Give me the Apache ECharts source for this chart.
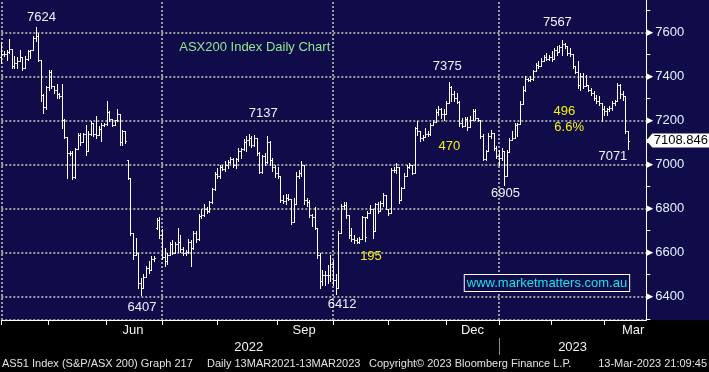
<!DOCTYPE html>
<html><head><meta charset="utf-8">
<script src="https://cdn.jsdelivr.net/npm/echarts@6/dist/echarts.min.js"></script>
<style>html,body{margin:0;padding:0;background:#000;}#c{width:709px;height:372px;}</style>
</head><body><div id="c"></div>
<script>
// ---- categories / ticks ----
const monthNames = ['Apr','May','Jun','Jul','Aug','Sep','Oct','Nov','Dec','Jan','Feb','Mar'];
const monthDays  = [18,22,21,21,23,21,21,22,20,20,20,17];   // trading-day slots per month
const monthLabelIdx = [50,115,179,240];                     // Jun, Sep, Dec, Mar (mid-month)
const yearLabels = ['2022','2023'];
const yearLabelIdx = [94,217];

// ---- daily OHLC (ASX200, Apr 2022 - 13 Mar 2023) ----
const opens = [
7490,7500,7500,7510,7525,7445,7460,7470,7490,7440,
7480,7515,7518,7575,7585,7475,7314,7260,7350,7420,
7355,7340,7320,7310,7200,7125,7050,7050,6945,7070,
7135,7100,7140,7060,7140,7190,7140,7135,7160,7180,
7185,7240,7205,7180,7200,7230,7100,7150,7020,6940,
6690,6590,6600,6460,6440,6490,6530,6520,6570,6710,
6750,6680,6580,6560,6590,6640,6600,6640,6650,6615,
6600,6605,6650,6620,6690,6660,6765,6770,6800,6790,
6830,6890,6955,6950,6990,6980,7000,7010,7025,7000,
7025,7060,7070,7100,7110,7120,7090,7120,7050,6965,
7040,7010,7100,7020,6990,6960,6950,6840,6835,6850,
6845,6740,6820,6950,6960,7000,6840,6830,6770,6760,
6710,6590,6470,6500,6500,6500,6550,6475,6440,6690,
6810,6815,6770,6680,6660,6655,6650,6660,6760,6760,
6780,6800,6700,6820,6790,6825,6860,6800,6780,6975,
6975,6990,6840,6895,6950,6990,7000,6960,7165,7150,
7120,7125,7140,7140,7180,7195,7240,7250,7230,7230,
7280,7350,7320,7300,7285,7190,7175,7205,7170,7200,
7245,7210,7200,7130,7025,7060,7130,7145,7075,7040,
7030,7060,6950,7055,7110,7120,7180,7185,7275,7340,
7390,7385,7390,7425,7450,7445,7470,7490,7480,7490,
7480,7520,7510,7535,7545,7540,7505,7500,7445,7420,
7360,7400,7355,7360,7340,7325,7300,7290,7280,7250,
7245,7250,7255,7280,7290,7360,7320,7310,7150];
const highs = [
7556,7514,7521,7571,7525,7491,7487,7521,7490,7491,
7521,7521,7582,7624,7595,7475,7320,7355,7431,7428,
7355,7366,7325,7366,7205,7125,7060,7060,7075,7143,
7143,7145,7181,7151,7196,7190,7219,7174,7189,7190,
7287,7242,7205,7204,7254,7230,7158,7150,7022,6940,
6690,6667,6600,6486,6501,6539,6561,6584,6584,6758,
6760,6705,6622,6600,6650,6655,6650,6712,6680,6625,
6610,6660,6655,6700,6700,6775,6800,6820,6805,6835,
6895,6965,6985,7000,7000,7018,7020,7035,7030,7030,
7075,7075,7115,7128,7137,7128,7135,7120,7055,7045,
7050,7130,7105,7030,7000,6990,6950,6860,6865,6865,
6845,6850,6965,6975,7015,7000,6850,6840,6775,6805,
6710,6600,6520,6516,6545,6590,6565,6505,6697,6820,
6830,6830,6770,6712,6682,6667,6670,6765,6760,6790,
6818,6800,6826,6830,6833,6871,6860,6800,6985,6990,
7007,6990,6900,6962,7000,7007,7000,7170,7196,7151,
7136,7166,7150,7189,7204,7250,7264,7257,7250,7287,
7375,7355,7335,7325,7287,7211,7215,7215,7220,7250,
7250,7210,7200,7140,7068,7143,7158,7145,7083,7068,
7075,7060,7068,7121,7151,7189,7190,7287,7355,7400,
7395,7400,7431,7461,7468,7484,7499,7506,7499,7514,
7529,7536,7544,7567,7552,7540,7529,7500,7446,7468,
7416,7416,7408,7360,7348,7332,7317,7310,7280,7264,
7257,7264,7287,7295,7370,7365,7332,7310,7151];
const lows = [
7461,7491,7476,7506,7438,7438,7438,7468,7431,7440,
7476,7484,7518,7559,7468,7287,7234,7254,7340,7348,
7325,7302,7302,7166,7121,6939,7045,6932,6939,7070,
7090,7100,7045,7060,7136,7128,7121,7135,7106,7175,
7181,7196,7174,7180,7196,7090,7090,7098,6932,6682,
6569,6590,6440,6407,6440,6490,6508,6520,6561,6705,
6667,6569,6539,6546,6590,6595,6600,6605,6605,6590,
6590,6600,6540,6615,6650,6655,6755,6765,6780,6785,
6825,6885,6940,6940,6975,6970,6985,7005,6990,6985,
7015,7030,7065,7060,7090,7080,7085,7045,6960,6960,
7000,7005,7000,6970,6945,6940,6830,6825,6820,6840,
6730,6740,6820,6940,6950,6820,6810,6760,6720,6705,
6575,6440,6455,6455,6460,6470,6455,6412,6440,6690,
6800,6758,6667,6652,6644,6644,6644,6660,6652,6758,
6780,6667,6700,6780,6790,6811,6796,6773,6780,6965,
6960,6826,6840,6895,6950,6985,6955,6960,7136,7106,
7113,7125,7130,7136,7180,7195,7227,7211,7204,7230,
7280,7287,7287,7280,7174,7170,7175,7158,7170,7200,
7204,7196,7121,7022,7022,7060,7120,7068,7030,7000,
7020,6905,6947,7055,7110,7120,7128,7185,7275,7332,
7378,7378,7385,7425,7438,7445,7468,7476,7476,7468,
7480,7499,7510,7499,7529,7499,7491,7438,7416,7348,
7340,7348,7355,7332,7317,7295,7279,7272,7196,7227,
7227,7242,7249,7272,7290,7302,7295,7143,7071];
const closes = [
7500,7500,7510,7525,7445,7460,7470,7490,7440,7480,
7515,7518,7575,7585,7475,7314,7260,7350,7420,7355,
7340,7320,7310,7200,7125,7050,7050,6945,7070,7135,
7100,7140,7060,7140,7190,7140,7135,7160,7180,7185,
7240,7205,7180,7200,7230,7100,7150,7105,6940,6690,
6590,6600,6460,6440,6490,6530,6520,6570,6575,6750,
6680,6580,6560,6590,6640,6600,6640,6650,6615,6600,
6605,6650,6620,6690,6660,6765,6770,6800,6790,6830,
6890,6955,6950,6990,6980,7000,7010,7025,7000,7025,
7060,7070,7100,7110,7120,7090,7120,7050,6965,7040,
7010,7100,7020,6990,6960,6950,6840,6835,6850,6845,
6740,6820,6950,6960,7000,6840,6830,6770,6760,6710,
6590,6470,6500,6500,6500,6550,6475,6440,6690,6810,
6815,6770,6680,6660,6655,6650,6660,6760,6670,6780,
6800,6700,6820,6790,6825,6860,6800,6780,6975,6975,
6990,6840,6895,6950,6990,7000,6960,7165,7150,7120,
7125,7140,7140,7180,7195,7240,7250,7230,7230,7280,
7350,7320,7300,7285,7190,7175,7205,7170,7200,7245,
7210,7200,7130,7025,7060,7130,7145,7075,7040,7030,
7060,6950,7055,7110,7120,7180,7185,7275,7340,7390,
7385,7390,7425,7450,7445,7470,7490,7480,7490,7480,
7520,7510,7535,7545,7540,7505,7500,7445,7420,7360,
7400,7355,7360,7340,7325,7300,7290,7280,7250,7245,
7250,7255,7280,7290,7360,7320,7310,7150,7108.846];
const lastPrice = 7108.846;

// ---- annotations (text, anchor category index, anchor value) ----
const notes = [
  {t:'7624', i:15, v:7667, dx:0.7, c:'#eef2ff'},
  {t:'7137', i:100, v:7234, dx:-1.3, c:'#eef2ff'},
  {t:'7375', i:169, v:7447, dx:1, c:'#eef2ff'},
  {t:'7567', i:211, v:7643, dx:0.6, c:'#eef2ff'},
  {t:'6407', i:53, v:6349, dx:1.2, c:'#eef2ff'},
  {t:'6412', i:129, v:6363, dx:1.2, c:'#eef2ff'},
  {t:'6905', i:191, v:6868, dx:1.3, c:'#eef2ff'},
  {t:'7071', i:232, v:7036, dx:0.8, c:'#eef2ff'},
  {t:'496', i:214, v:7242, dx:-0.3, c:'#f2f20a'},
  {t:'6.6%', i:216, v:7170, dx:-0.8, c:'#f2f20a'},
  {t:'470', i:170, v:7080, dx:0.6, c:'#f2f20a'},
  {t:'195', i:140, v:6582, dx:1.1, c:'#f2f20a'},
  {t:'ASX200 Index Daily Chart', i:96, v:7531, dx:0.7, c:'#8fe88f'}
];
const urlNote = {t:'www.marketmatters.com.au', i:207, v:6462, dx:0.7};

// ---- build ----
const categories = [];
const monthStart = [];
monthNames.forEach((m,k)=>{ monthStart.push(categories.length); for(let j=0;j<monthDays[k];j++) categories.push(m); });
const yearStartIdx = monthStart[9];
const yearCats = categories.map((c,i)=> i < yearStartIdx ? yearLabels[0] : yearLabels[1]);
const quarterIdx = [monthStart[0], monthStart[3], monthStart[6], monthStart[9]];
const ohlc = opens.map((o,i)=>[i, o, highs[i], lows[i], closes[i]]);

const FONT = '"Liberation Sans", Arial, sans-serif';
const navy = '#100c4a';
const dotted = {color:'#9c9c9c', width:2, type:[2,2]};

function renderItem(params, api){
  const i = api.value(0);
  const x = Math.round(api.coord([i, api.value(4)])[0]) + 0.5;
  const yO = Math.round(api.coord([i, api.value(1)])[1]) + 0.5;
  const yH = api.coord([i, api.value(2)])[1];
  const yL = api.coord([i, api.value(3)])[1];
  const yC = Math.round(api.coord([i, api.value(4)])[1]) + 0.5;
  const h = api.size([1,0])[0] / 2;
  const st = {stroke:'#ffffff', lineWidth:1};
  return {type:'group', children:[
    {type:'line', shape:{x1:x, y1:Math.round(yH), x2:x, y2:Math.round(yL)+1}, style:st},
    {type:'line', shape:{x1:x-h, y1:yO, x2:x, y2:yO}, style:st},
    {type:'line', shape:{x1:x, y1:yC, x2:x+h, y2:yC}, style:st}
  ]};
}

const markData = notes.map(n=>({
  coord:[n.i, n.v], value:n.t, symbolSize:0,
  label:{formatter:n.t, color:n.c, offset:[n.dx,0]}
}));
markData.push({
  coord:[urlNote.i, urlNote.v], value:urlNote.t, symbolSize:0,
  label:{formatter:urlNote.t, color:'#19e3ea', offset:[urlNote.dx,0], borderColor:'#ffffff', borderWidth:1, padding:[2,2,1,2], backgroundColor:navy}
});
markData.push({
  coord:[categories.length-1, lastPrice], value:String(lastPrice),
  symbol:'path://M0,7L6,0L63,0L63,14L6,14Z', symbolSize:[63,14], symbolOffset:[31.5,0],
  itemStyle:{color:'#ffffff'},
  label:{formatter:String(lastPrice), color:'#000000', offset:[3,0]}
});

const footStyle = {fill:'#e2e2e2', font:'11px ' + FONT, textVerticalAlign:'middle'};
const option = {
  backgroundColor:'#000000',
  animation:false,
  textStyle:{fontFamily:FONT},
  graphic:[
    {type:'rect', z:-100, silent:true, shape:{x:0,y:0,width:709,height:320}, style:{fill:navy}},
    {type:'text', silent:true, style:Object.assign({text:'AS51 Index (S&P/ASX 200) Graph 217', x:2, y:364}, footStyle)},
    {type:'text', silent:true, style:Object.assign({text:'Daily 13MAR2021-13MAR2023', x:207, y:364}, footStyle)},
    {type:'text', silent:true, style:Object.assign({text:'Copyright\u00a9 2023 Bloomberg Finance L.P.', x:369, y:364}, footStyle)},
    {type:'text', silent:true, style:Object.assign({text:'13-Mar-2023 21:09:45', x:707, y:364, textAlign:'right'}, footStyle)}
  ],
  grid:[
    {left:1.3, width:645, top:-2, height:322, containLabel:false, outerBoundsMode:'none'},
    {left:1.3, width:645, top:10.3, height:308.5, containLabel:false, outerBoundsMode:'none'}
  ],
  xAxis:[
    {type:'category', gridIndex:0, data:categories, boundaryGap:false,
     axisLine:{show:true, lineStyle:{color:'#ffffff', width:1}},
     axisTick:{show:true, interval:(i)=>monthStart.includes(i), length:5, lineStyle:{color:'#ffffff'}},
     axisLabel:{interval:(i)=>monthLabelIdx.includes(i), color:'#f2f2f2', fontSize:13, margin:4, fontFamily:FONT},
     splitLine:{show:true, interval:(i)=>quarterIdx.includes(i), lineStyle:dotted}},
    {type:'category', gridIndex:0, data:yearCats, boundaryGap:false, position:'bottom', offset:18,
     axisLine:{show:false},
     axisTick:{show:true, interval:(i)=>i===yearStartIdx, length:17, lineStyle:{color:'#8a8a8a'}},
     axisLabel:{interval:(i)=>yearLabelIdx.includes(i), color:'#f2f2f2', fontSize:13, margin:3, fontFamily:FONT},
     splitLine:{show:false}},
    {type:'category', gridIndex:1, data:categories, boundaryGap:false, show:false}
  ],
  yAxis:[
    {type:'value', gridIndex:0, position:'right', min:6294, max:7756, splitNumber:7,
     axisLine:{show:true, lineStyle:{color:'#ffffff'}}, axisTick:{show:false}, axisLabel:{show:false},
     splitLine:{show:true, lineStyle:dotted}},
    {type:'value', gridIndex:1, position:'right', min:6300, max:7700, interval:100,
     axisLine:{show:false}, axisTick:{show:true, length:4, lineStyle:{color:'#ffffff'}},
     splitLine:{show:false},
     axisLabel:{show:true, margin:0, fontFamily:FONT,
       formatter:(v)=> v % 200 === 0 ? '{t|\u25B6}{n|' + v + '}' : '',
       rich:{t:{color:'#ffffff', fontSize:9, fontFamily:'DejaVu Sans', padding:[0,2,0,0]}, n:{color:'#eaf0ff', fontSize:13, fontFamily:FONT}}}}
  ],
  series:[{
    type:'custom', xAxisIndex:0, yAxisIndex:0, clip:false,
    data:ohlc, renderItem:renderItem, encode:{x:0, y:[1,2,3,4]},
    markPoint:{symbol:'rect', symbolSize:0, silent:true, animation:false,
      label:{show:true, position:'inside', fontSize:13, fontFamily:FONT},
      data:markData}
  }]
};
const chart = echarts.init(document.getElementById('c'), null, {renderer:'canvas'});
chart.setOption(option);
</script></body></html>
